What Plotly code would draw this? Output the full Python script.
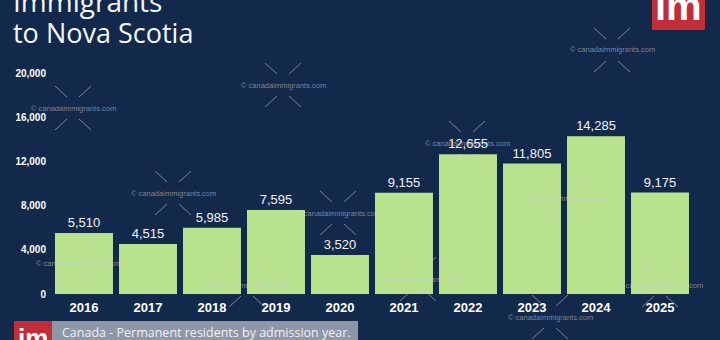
import plotly.graph_objects as go

years = ["2016", "2017", "2018", "2019", "2020", "2021", "2022", "2023", "2024", "2025"]
immigrants = [5510, 4515, 5985, 7595, 3520, 9155, 12655, 11805, 14285, 9175]
y_ticks = [0, 4000, 8000, 12000, 16000, 20000]
title_line1 = "Immigrants"
title_line2 = "to Nova Scotia"
footer_text = "Canada - Permanent residents by admission year."
watermark = "© canadaimmigrants.com"

W, H = 720, 340
L, R, T, B = 52, 28, 73, 46
PW, PH = W - L - R, H - T - B

BG = "#13294b"
RED = "#c22d3a"
BAR = "#b8e28d"


def px(x):
    return (x - L) / PW


def py(y):
    return (H - B - y) / PH


fig = go.Figure()
fig.add_trace(go.Bar(
    x=years, y=immigrants,
    marker=dict(color=BAR, line=dict(width=0)),
    text=[f"{v:,}" for v in immigrants],
    textposition="outside",
    outsidetextfont=dict(family="Liberation Sans, Arial", size=13, color="#f2f4f7"),
    cliponaxis=False,
    hoverinfo="skip",
))

shapes = []
annotations = []

# watermarks (decorative)
wm_centers = [(73, 108), (283, 85), (612, 50), (173, 193), (338, 213), (78, 263),
              (467, 143), (567, 198), (247, 285), (418, 279), (660, 285), (550, 317)]
wm_col = "rgba(205,210,220,0.55)"
for cx, cy in wm_centers:
    for sx in (-1, 1):
        for sy in (-1, 1):
            shapes.append(dict(type="line", xref="paper", yref="paper",
                               x0=px(cx + sx * 18), y0=py(cy + sy * 22),
                               x1=px(cx + sx * 6), y1=py(cy + sy * 11),
                               line=dict(color=wm_col, width=1), layer="above"))
    annotations.append(dict(text=watermark, xref="paper", yref="paper",
                            x=px(cx), y=py(cy), xanchor="center", yanchor="middle",
                            showarrow=False,
                            font=dict(family="Liberation Sans, Arial", size=7.5, color=wm_col)))

# title
annotations.append(dict(text=title_line1, xref="paper", yref="paper",
                        x=px(11), y=py(22), xanchor="left", yanchor="bottom",
                        showarrow=False,
                        font=dict(family="Open Sans", size=28, color="#f4f6fa")))
annotations.append(dict(text=title_line2, xref="paper", yref="paper",
                        x=px(11), y=py(33), xanchor="left", yanchor="middle",
                        showarrow=False,
                        font=dict(family="Open Sans", size=27, color="#f4f6fa")))

# top-right logo
shapes.append(dict(type="rect", xref="paper", yref="paper",
                   x0=px(652), x1=px(705), y0=py(30), y1=py(-10),
                   fillcolor=RED, line=dict(width=0), layer="above"))
annotations.append(dict(text="<b>im</b>", xref="paper", yref="paper",
                        x=px(678), y=py(30), xanchor="center", yanchor="bottom",
                        showarrow=False,
                        font=dict(family="Liberation Sans, Arial", size=40, color="white")))

# footer
shapes.append(dict(type="rect", xref="paper", yref="paper",
                   x0=px(14), x1=px(52), y0=py(345), y1=py(321),
                   fillcolor=RED, line=dict(width=0), layer="above"))
shapes.append(dict(type="rect", xref="paper", yref="paper",
                   x0=px(52), x1=px(358), y0=py(345), y1=py(321),
                   fillcolor="#8e97a7", line=dict(width=0), layer="above"))
annotations.append(dict(text="<b>im</b>", xref="paper", yref="paper",
                        x=px(33), y=py(321), xanchor="center", yanchor="top",
                        showarrow=False,
                        font=dict(family="Liberation Sans, Arial", size=26, color="white")))
annotations.append(dict(text=footer_text, xref="paper", yref="paper",
                        x=px(60), y=py(332), xanchor="left", yanchor="middle",
                        showarrow=False,
                        font=dict(family="Open Sans", size=12.5, color="#eef1f6")))

fig.update_layout(
    width=W, height=H,
    margin=dict(l=L, r=R, t=T, b=B, pad=0),
    paper_bgcolor=BG, plot_bgcolor=BG,
    showlegend=False,
    bargap=0.094,
    shapes=shapes,
    annotations=annotations,
    xaxis=dict(showgrid=False, zeroline=False, showline=False, ticks="",
               tickfont=dict(family="Liberation Sans, Arial", size=13, color="white", weight="bold"),
               ticklabelstandoff=4, fixedrange=True),
    yaxis=dict(range=[0, 20000], tickvals=y_ticks, tickformat=",",
               showgrid=False, zeroline=False, showline=False, ticks="",
               tickfont=dict(family="Liberation Sans, Arial", size=10, color="white", weight="bold"),
               ticklabelstandoff=5, fixedrange=True),
)

fig.write_html("out.html")
